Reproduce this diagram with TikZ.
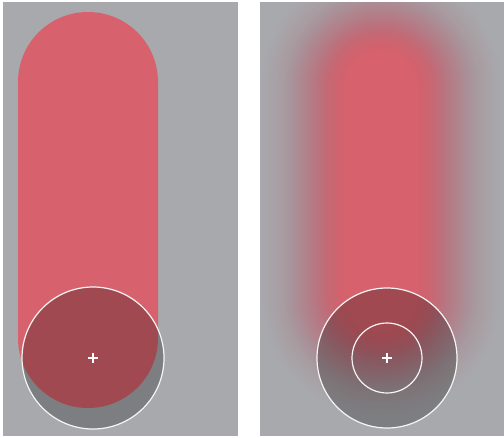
\documentclass[tikz,border=0pt]{standalone}
\definecolor{bg}{HTML}{A8A9AD}
\definecolor{capred}{HTML}{D7626D}
\tikzset{
  ring/.style={draw=white!92!gray, line width=1.2pt},
  cross/.style={draw=white, line width=1.1pt},
  shade/.style={fill=black, fill opacity=0.25},
}
\begin{document}
\begin{tikzpicture}[x=1pt,y=-1pt]
\useasboundingbox (0,0) rectangle (504,437);
\fill[white] (0,0) rectangle (504,437);
% panels
\fill[bg] (3,2) rectangle (238,436);
\fill[bg] (260,2) rectangle (504,436);
% ---- left panel ----
\fill[capred, rounded corners=69.9pt] (18,12) rectangle (158,408);
\coordinate (c1) at (93,358);
\fill[shade] (c1) circle (71);
\draw[ring] (c1) circle (71);
\draw[cross] (c1) ++(-5,0) -- ++(10,0);
\draw[cross] (c1) ++(0,-5) -- ++(0,10);
% ---- right panel (blurred capsule) ----
\begin{scope}
\clip (260,2) rectangle (504,436);
\foreach \j in {1,...,50}{
  \pgfmathsetmacro{\e}{55-87*\j/50}
  \pgfmathsetmacro{\ep}{55-87*(\j-1)/50}
  \pgfmathsetmacro{\c}{\e>=0 ? 0.5*(1-\e/55)^1.5 : 1-0.5*(1+\e/32)^1.5}
  \pgfmathsetmacro{\cp}{\ep>=0 ? 0.5*(1-\ep/55)^1.5 : 1-0.5*(1+\ep/32)^1.5}
  \pgfmathsetmacro{\a}{\j==50 ? 1 : 1-(1-\c)/(1-\cp)}
  \pgfmathsetmacro{\r}{66+\e-0.05}
  \fill[capred, fill opacity=\a, rounded corners=\r pt]
    (315-\e,20-\e) rectangle (447+\e,362+\e);
}
\end{scope}
\coordinate (c2) at (387,358);
\fill[shade] (c2) circle (70);
\draw[ring] (c2) circle (70);
\draw[ring] (c2) circle (35);
\draw[cross] (c2) ++(-5,0) -- ++(10,0);
\draw[cross] (c2) ++(0,-5) -- ++(0,10);
\end{tikzpicture}
\end{document}
